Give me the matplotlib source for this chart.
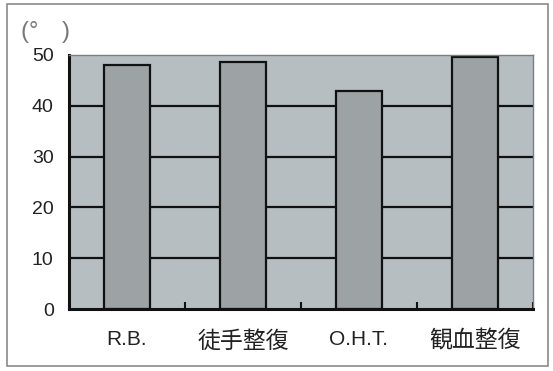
import matplotlib.pyplot as plt
import numpy as np
from matplotlib.patches import Rectangle

# Angle by treatment group (degrees)
categories = ['R.B.', '徒手整復', 'O.H.T.', '観血整復']
angles = [48.0, 48.6, 42.9, 49.5]
yticks = [0, 10, 20, 30, 40, 50]

plt.rcParams['font.family'] = ['Liberation Sans', 'Noto Sans CJK JP']

fig = plt.figure(figsize=(5.53, 3.71), dpi=100)
ax = fig.add_axes([0.1248, 0.167, 0.839, 0.685])

x = np.arange(len(categories))
ax.set_facecolor('#b7bec2')

# horizontal rules sit behind the bars
for v in yticks[1:-1]:
    ax.axhline(v, color='#111111', lw=1.6, zorder=1)

ax.bar(x, angles, width=0.4, color='#9da2a5', edgecolor='#111111',
       linewidth=1.6, zorder=2)

ax.set_xlim(-0.5, len(categories) - 0.5)
ax.set_ylim(0, 50)
ax.set_yticks(yticks)
ax.set_xticks(x)
ax.set_xticklabels(categories)
ax.tick_params(axis='y', length=0, pad=11, labelsize=14, labelcolor='#222222')
ax.tick_params(axis='x', length=0, pad=15, labelcolor='#222222')
for lbl in ax.get_xticklabels():
    # CJK labels are set a little larger than the latin ones
    lbl.set_fontsize(15 if lbl.get_text().isascii() else 16.5)

# small inward ticks at the category boundaries
ax.set_xticks(list(x[:-1] + 0.5) + [len(categories) - 0.5], minor=True)
ax.tick_params(axis='x', which='minor', direction='in', length=5,
               width=1.5, color='#111111')

for side in ['left', 'bottom']:
    ax.spines[side].set_linewidth(2.2)
    ax.spines[side].set_color('#111111')
for side in ['top', 'right']:
    ax.spines[side].set_linewidth(1.0)
    ax.spines[side].set_color('#7a7e82')

fig.text(0.038, 0.915, '(°\u3000)', fontsize=17, color='#777777', va='center',
         family=['Liberation Sans', 'Noto Sans CJK JP'])

# outer frame around the whole figure
fig.patches.append(Rectangle((0.013, 0.013), 0.978, 0.975,
                             transform=fig.transFigure, fill=False,
                             edgecolor='#8a8a8a', linewidth=1.2))

fig.savefig('out.png', dpi=100)
